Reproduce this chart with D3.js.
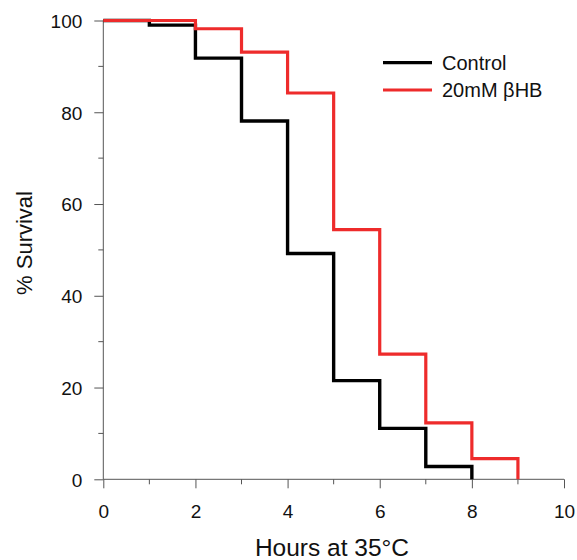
<!DOCTYPE html>
<html>
<head>
<meta charset="utf-8">
<script src="https://cdn.jsdelivr.net/npm/d3@7"></script>
<style>
  html, body { margin: 0; padding: 0; background: #fff; }
  svg { display: block; font-family: "Liberation Sans", Arial, sans-serif; }
</style>
</head>
<body>
<svg id="chart" width="577" height="560"></svg>
<script>
// Data
const hoursControl = [0, 1, 2, 3, 4, 5, 6, 7, 8];
const survivalControl = [100, 99, 91.8, 78.1, 49.2, 21.5, 11.1, 2.8, 0];
const hoursBHB = [0, 1, 2, 3, 4, 5, 6, 7, 8, 9];
const survivalBHB = [100, 100, 98.2, 93.1, 84.2, 54.4, 27.3, 12.3, 4.5, 0];
const seriesNames = ["Control", "20mM \u03B2HB"];
const xMajorTicks = [0, 2, 4, 6, 8, 10];
const xMinorTicks = [1, 3, 5, 7, 9];
const yMajorTicks = [0, 20, 40, 60, 80, 100];
const yMinorTicks = [10, 30, 50, 70, 90];
const xTitle = "Hours at 35\u00B0C";
const yTitle = "% Survival";

const svg = d3.select("#chart");
const x = d3.scaleLinear().domain([0, 10]).range([103.3, 564]);
const y = d3.scaleLinear().domain([0, 100]).range([479.3, 20.5]);
const axisColor = "#555";

// X axis
const gx = svg.append("g").attr("transform", `translate(0,${y(0)})`);
gx.call(d3.axisBottom(x).tickValues(xMajorTicks).tickSize(9).tickFormat(d3.format("d")));
gx.selectAll(".tick text").attr("y", 39).attr("dy", null)
  .attr("font-size", 19).attr("fill", "#111").attr("font-family", "Liberation Sans, Arial, sans-serif");
gx.append("g").selectAll("line").data(xMinorTicks).join("line")
  .attr("x1", d => x(d)).attr("x2", d => x(d)).attr("y1", 0).attr("y2", 5);
// Y axis
const gy = svg.append("g").attr("transform", `translate(${x(0)},0)`);
gy.call(d3.axisLeft(y).tickValues(yMajorTicks).tickSize(9).tickPadding(12).tickFormat(d3.format("d")));
gy.selectAll(".tick text").attr("dy", "0.36em")
  .attr("font-size", 19).attr("fill", "#111").attr("font-family", "Liberation Sans, Arial, sans-serif");
gy.append("g").selectAll("line").data(yMinorTicks).join("line")
  .attr("y1", d => y(d)).attr("y2", d => y(d)).attr("x1", 0).attr("x2", -5);

[gx, gy].forEach(g => {
  g.selectAll(".domain").attr("stroke", axisColor).attr("stroke-width", 1)
    .attr("d", g === gx ? `M${x(0)},0H${x(10)}` : `M0,${y(0)}V${y(100)}`);
  g.selectAll("line").attr("stroke", axisColor).attr("stroke-width", 1);
});

// Lines
const line = d3.line().x(d => x(d[0])).y(d => y(d[1])).curve(d3.curveStepAfter);
const controlPts = hoursControl.map((h, i) => [h, survivalControl[i]]);
const bhbPts = hoursBHB.map((h, i) => [h, survivalBHB[i]]);
svg.append("path").attr("d", line(controlPts)).attr("fill", "none")
  .attr("stroke", "#000").attr("stroke-width", 3.4);
svg.append("path").attr("d", line(bhbPts)).attr("fill", "none")
  .attr("stroke", "#ee2b2b").attr("stroke-width", 3.2);

// Legend
const colors = ["#000", "#ee2b2b"];
const legY = [62.7, 90];
seriesNames.forEach((name, i) => {
  svg.append("line").attr("x1", 383).attr("x2", 432).attr("y1", legY[i]).attr("y2", legY[i])
    .attr("stroke", colors[i]).attr("stroke-width", 3.2);
  svg.append("text").attr("x", 442).attr("y", legY[i] + 7).attr("font-size", 20)
    .attr("fill", "#111").text(name);
});

// Titles
svg.append("text").attr("x", 332).attr("y", 556).attr("text-anchor", "middle")
  .attr("font-size", 24.5).attr("fill", "#111").text(xTitle);
svg.append("text").attr("transform", "translate(32,243) rotate(-90)").attr("text-anchor", "middle")
  .attr("font-size", 22).attr("fill", "#111").text(yTitle);
</script>
</body>
</html>
